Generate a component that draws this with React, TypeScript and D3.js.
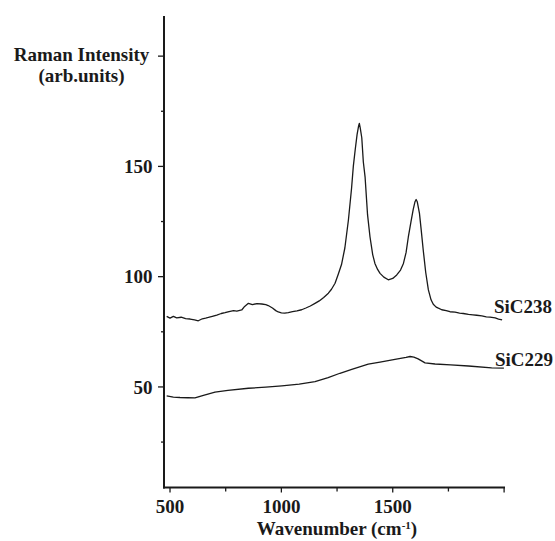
import React from "react";
import * as d3 from "d3";

// Raman spectra of two SiC samples (wavenumber cm^-1, intensity arb. units)
const sic238Wavenumber = [
  485, 500, 515, 530, 550, 570, 590, 610, 627, 645, 660, 672, 690, 710, 730, 747, 765, 785, 800, 822,
  835, 852, 870, 890, 912, 930, 941, 960, 975, 986, 1000, 1015, 1031, 1050, 1070, 1091, 1110, 1130,
  1151, 1170, 1190, 1211, 1225, 1241, 1255, 1270, 1285, 1301, 1315, 1323, 1332, 1340, 1347, 1350,
  1354, 1361, 1368, 1376, 1387, 1398, 1410, 1420, 1432, 1443, 1460, 1480, 1500, 1518, 1535, 1548,
  1560, 1570, 1582, 1592, 1600, 1605, 1610, 1620, 1628, 1637, 1648, 1660, 1672, 1682, 1695, 1705,
  1720, 1740, 1757, 1780, 1800, 1817, 1840, 1860, 1877, 1900, 1920, 1937, 1960, 1975, 1991,
];
const sic238Intensity = [
  82.0, 81.2, 82.0, 81.3, 81.6, 81.0, 80.8, 80.4, 80.0, 80.9, 81.2, 81.5, 82.0, 82.6, 83.3, 83.7, 84.2,
  84.6, 84.4, 84.9, 86.5, 87.9, 87.3, 87.8, 87.6, 87.3, 86.9, 85.8, 84.6, 84.0, 83.6, 83.5, 83.7, 84.1,
  84.5, 85.0, 85.8, 86.7, 87.9, 89.0, 90.6, 92.5, 94.3, 97.0, 101, 105.5, 113, 125.7, 140, 150, 158,
  164.5, 168.5, 169.5, 167.5, 163, 152, 145, 128, 118, 110, 106, 103.3, 101.5, 99.8, 98.6, 99.2, 100.8,
  103, 106, 111, 118, 125, 130.5, 134.0, 135.0, 134, 128.7, 121, 112, 102, 94, 89.5, 87.5, 86.2, 85.7,
  85.0, 84.6, 84.1, 83.9, 83.5, 83.3, 82.9, 82.7, 82.5, 82.2, 81.8, 81.7, 81.3, 80.8, 80.4,
];

const sic229Wavenumber = [
  485, 515, 545, 580, 612, 650, 702, 760, 852, 930, 1002, 1080, 1151, 1210, 1263, 1316, 1390, 1443,
  1510, 1560, 1578, 1595, 1614, 1645, 1690, 1760, 1840, 1944, 1999,
];
const sic229Intensity = [
  45.9, 45.4, 45.2, 45.1, 45.0, 46.2, 47.6, 48.4, 49.4, 49.9, 50.5, 51.3, 52.4, 54.2, 56.2, 58.0, 60.3,
  61.3, 62.5, 63.4, 63.8, 63.5, 62.7, 60.9, 60.4, 60.0, 59.5, 58.6, 58.5,
];

const seriesNames = ["SiC238", "SiC229"];

const xMajorTicks = [500, 1000, 1500, 2000];
const xMinorTicks = [750, 1250, 1750];
const xTickLabels = ["500", "1000", "1500", ""];
const yMajorTicks = [50, 100, 150, 200];
const yMinorTicks = [25, 75, 125, 175];
const yTickLabels = ["50", "100", "150", ""];

const FONT = "'Liberation Serif', 'Times New Roman', serif";
const INK = "#1a1a1a";

export default function App() {
  const x = d3.scaleLinear().domain([473, 2000]).range([164, 504.1]);
  const y = d3.scaleLinear().domain([4.4, 218.2]).range([487.5, 16]);

  const line = d3
    .line<[number, number]>()
    .x((d) => x(d[0]))
    .y((d) => y(d[1]))
    .curve(d3.curveLinear);

  const s238 = sic238Wavenumber.map((w, i) => [w, sic238Intensity[i]] as [number, number]);
  const s229 = sic229Wavenumber.map((w, i) => [w, sic229Intensity[i]] as [number, number]);

  const axisX0 = x.range()[0];
  const axisY0 = y.range()[0];

  return (
    <svg
      width={555}
      height={541}
      style={{ position: "absolute", left: 0, top: 0, background: "#fff" }}
      fontFamily={FONT}
      fontWeight="bold"
    >
      {/* spectra */}
      <path d={line(s238) || ""} fill="none" stroke={INK} strokeWidth={1.3} strokeLinejoin="round" />
      <path d={line(s229) || ""} fill="none" stroke={INK} strokeWidth={1.3} strokeLinejoin="round" />

      {/* series labels */}
      <text x={494} y={313} fontSize={19} fill={INK}>
        {seriesNames[0]}
      </text>
      <text x={495} y={366} fontSize={19} fill={INK}>
        {seriesNames[1]}
      </text>

      {/* y axis */}
      <line x1={axisX0} x2={axisX0} y1={y.range()[1]} y2={axisY0 + 1} stroke={INK} strokeWidth={2} />
      {yMajorTicks.map((t, i) => (
        <g key={"ym" + t}>
          <line x1={axisX0 - 6} x2={axisX0} y1={y(t)} y2={y(t)} stroke={INK} strokeWidth={1.3} />
          <text x={152.5} y={y(t)} dy="0.35em" textAnchor="end" fontSize={19} fill={INK}>
            {yTickLabels[i]}
          </text>
        </g>
      ))}
      {yMinorTicks.map((t) => (
        <line key={"yn" + t} x1={axisX0 - 3} x2={axisX0} y1={y(t)} y2={y(t)} stroke={INK} strokeWidth={1.3} />
      ))}

      {/* x axis */}
      <line x1={axisX0 - 1} x2={505} y1={axisY0} y2={axisY0} stroke={INK} strokeWidth={2} />
      {xMajorTicks.map((t, i) => (
        <g key={"xm" + t}>
          <line x1={x(t)} x2={x(t)} y1={axisY0} y2={axisY0 + 5} stroke={INK} strokeWidth={1.3} />
          <text x={x(t)} y={513} textAnchor="middle" fontSize={19} fill={INK}>
            {xTickLabels[i]}
          </text>
        </g>
      ))}
      {xMinorTicks.map((t) => (
        <line key={"xn" + t} x1={x(t)} x2={x(t)} y1={axisY0} y2={axisY0 + 4} stroke={INK} strokeWidth={1.3} />
      ))}

      {/* axis titles */}
      <text x={81.5} y={61} textAnchor="middle" fontSize={19} fill={INK}>
        Raman Intensity
      </text>
      <text x={81.5} y={81.5} textAnchor="middle" fontSize={19} fill={INK}>
        (arb.units)
      </text>
      <text x={337} y={535} textAnchor="middle" fontSize={19} fill={INK}>
        Wavenumber (cm
        <tspan fontSize={11} dy={-6}>
          -1
        </tspan>
        <tspan dy={6}>)</tspan>
      </text>
    </svg>
  );
}
